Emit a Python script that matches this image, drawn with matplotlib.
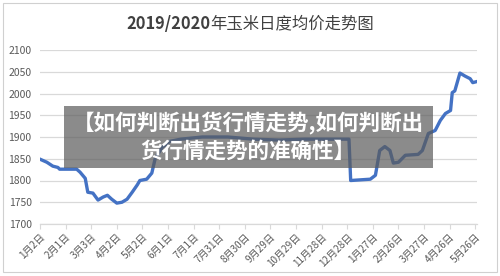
import matplotlib
matplotlib.use("Agg")
import matplotlib.pyplot as plt
from matplotlib.patches import Rectangle

plt.rcParams['font.family'] = ['Noto Sans CJK SC', 'DejaVu Sans']

# day offsets from 2019-01-02 and daily average corn price (yuan/ton)
days = [0, 8, 15, 21, 23, 43, 47, 53, 56, 62, 68, 74, 79, 84, 90, 96, 102, 108,
        114, 117, 125, 131, 135, 143, 152, 165, 190, 220, 250, 280, 310, 340, 362,
        364, 387, 393, 398, 404, 410, 414, 420, 428, 443, 448, 455, 463, 469, 475,
        481, 483, 486, 492, 498, 504, 507, 511]
prices = [1849, 1842, 1833, 1830, 1826, 1826, 1819, 1805, 1773, 1771, 1755, 1762, 1766, 1757, 1748, 1750, 1757, 1773,
          1790, 1800, 1803, 1817, 1851, 1876, 1890, 1895, 1900, 1900, 1895, 1893, 1895, 1895, 1895,
          1800, 1803, 1812, 1869, 1878, 1869, 1840, 1842, 1858, 1860, 1869, 1908, 1915, 1938, 1954,
          1961, 2002, 2006, 2047, 2040, 2034, 2025, 2027]

tick_days = [0, 30, 60, 90, 120, 150, 180, 210, 240, 270, 300, 330, 360, 390, 420, 450, 480, 510]
tick_labels = ['1月2日', '2月1日', '3月3日', '4月2日', '5月2日', '6月1日', '7月1日', '7月31日', '8月30日',
               '9月29日', '10月29日', '11月28日', '12月28日', '1月27日', '2月26日', '3月27日', '4月26日', '5月26日']
y_ticks = [1700, 1750, 1800, 1850, 1900, 1950, 2000, 2050, 2100]

title_a = '2019/2020'
title_b = '年玉米日度均价走势图'
overlay_lines = ['【如何判断出货行情走势,如何判断出', '货行情走势的准确性】']

W, H = 500, 276
fig = plt.figure(figsize=(W / 100, H / 100), dpi=100)
fig.patch.set_facecolor('white')

# outer chart border
fig.patches.append(Rectangle((3 / W, 4 / H), 494 / W, 269 / H, transform=fig.transFigure,
                             fill=False, edgecolor='#d0d0d0', linewidth=0.8))

ax = fig.add_axes([40 / W, 1 - 224 / H, 437 / W, 174 / H])
ax.plot(days, prices, color='#4472C4', linewidth=2.4, solid_joinstyle='round', zorder=3)
ax.set_xlim(0, 512)
ax.set_ylim(1700, 2100)
ax.set_yticks(y_ticks)
ax.set_yticklabels([str(v) for v in y_ticks], fontsize=7.5, color='#595959')
ax.set_xticks(tick_days)
ax.set_xticklabels(tick_labels, rotation=45, ha='right', va='top', rotation_mode='anchor',
                   fontsize=7.2, color='#595959')
ax.grid(axis='y', color='#d9d9d9', linewidth=0.9)
ax.set_axisbelow(True)
for s in ['top', 'right', 'left']:
    ax.spines[s].set_visible(False)
ax.spines['bottom'].set_color('#d9d9d9')
ax.spines['bottom'].set_linewidth(0.9)
ax.tick_params(axis='y', length=0, pad=6)
ax.tick_params(axis='x', length=3.5, color='#d9d9d9', pad=2)

# title: bold numerals followed by regular Chinese text, centred as a whole
renderer = fig.canvas.get_renderer()
ty = 1 - 24 / H
ta = fig.text(0, ty, title_a, ha='left', va='center', fontsize=11.8, color='#404040', fontweight='bold')
tb = fig.text(0, ty, title_b, ha='left', va='center', fontsize=11.8, color='#404040', fontweight='normal')
wa = ta.get_window_extent(renderer).width
wb = tb.get_window_extent(renderer).width
x0 = (W - (wa + wb)) / 2
ta.set_x(x0 / W)
tb.set_x((x0 + wa) / W)

# semi-transparent banner overlay
fig.patches.append(Rectangle((64 / W, 1 - 168 / H), 369 / W, 62 / H, transform=fig.transFigure,
                             facecolor='#5a5a5a', alpha=0.7, edgecolor='none', zorder=10))
fig.text(248 / W, 1 - 123 / H, overlay_lines[0], ha='center', va='center', fontsize=15.5,
         color='white', fontweight='bold', zorder=11)
fig.text(248 / W, 1 - 151 / H, overlay_lines[1], ha='center', va='center', fontsize=15.5,
         color='white', fontweight='bold', zorder=11)

fig.savefig('out.png', dpi=100)
